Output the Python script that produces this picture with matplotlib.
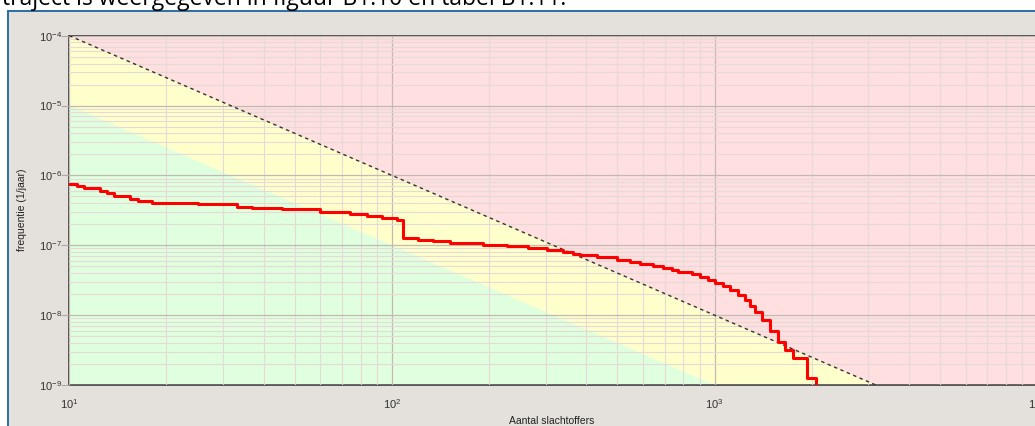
import numpy as np
import matplotlib.pyplot as plt
from matplotlib.patches import Rectangle

# F-N curve
aantal = [10, 10.56, 11.10, 12.45, 13.09, 13.76, 15.42, 16.33, 18.05, 25.06,
          33.1, 36.85, 45.6, 59.8, 74.2, 83.7, 93.2, 103.7, 108.2, 120.5,
          134.2, 151.4, 191.6, 227.5, 264.2, 302.5, 339.2, 364.2, 383.0, 432.4,
          498.5, 547.2, 587.7, 644.8, 692.5, 738.3, 770.7, 851.8, 901.7, 954.8,
          1004, 1063, 1117, 1183, 1243, 1289, 1336, 1404, 1486, 1573,
          1654, 1751, 1935, 2064]
frequentie = [7.56e-7, 7.08e-7, 6.63e-7, 6.00e-7, 5.62e-7, 5.09e-7, 4.61e-7, 4.32e-7, 4.04e-7, 3.87e-7,
              3.54e-7, 3.43e-7, 3.26e-7, 3.00e-7, 2.77e-7, 2.59e-7, 2.43e-7, 2.27e-7, 1.26e-7, 1.20e-7,
              1.14e-7, 1.08e-7, 1.01e-7, 9.64e-8, 9.18e-8, 8.59e-8, 8.04e-8, 7.53e-8, 7.17e-8, 6.71e-8,
              6.18e-8, 5.79e-8, 5.42e-8, 5.07e-8, 4.75e-8, 4.45e-8, 4.16e-8, 3.83e-8, 3.53e-8, 3.20e-8,
              2.90e-8, 2.63e-8, 2.30e-8, 1.95e-8, 1.66e-8, 1.36e-8, 1.11e-8, 8.56e-9, 5.96e-9, 4.15e-9,
              3.19e-9, 2.45e-9, 1.27e-9, 1e-11]

# norm lines (end points on log-log)
norm_n = [10, 10000]
norm_f = [1e-4, 1e-10]
groen_n = [10, 10000]
groen_f = [1e-5, 1e-11]

W, H = 1035, 426
fig = plt.figure(figsize=(W / 100, H / 100), dpi=100, facecolor='white')
plt.rcParams['font.family'] = ['Liberation Sans', 'DejaVu Sans']

# grey window with blue border
fig.patches.append(Rectangle((7.5 / W, -0.1), 1.2, 1 - 10.5 / H + 0.1, transform=fig.transFigure,
                             facecolor='#e4e1dc', edgecolor='#2a6ea6', linewidth=1.4, zorder=-10))
fig.text(2 / W, 1 - 5 / H, 'traject is weergegeven in figuur B1.10 en tabel B1.11.',
         fontsize=16.5, va='baseline', ha='left', color='black', family='Open Sans')

x0, x1 = 69.3, 1037.1
y0, y1 = 35.7, 385
ax = fig.add_axes([x0 / W, 1 - y1 / H, (x1 - x0) / W, (y1 - y0) / H])
ax.set_xscale('log')
ax.set_yscale('log')
ax.set_xlim(10, 10000)
ax.set_ylim(1e-9, 1e-4)
ax.set_facecolor('#ffdfdf')

ax.fill_between(norm_n, norm_f, 1e-12, color='#ffffcc', lw=0, zorder=1)
ax.fill_between(groen_n, groen_f, 1e-12, color='#dfffdf', lw=0, zorder=1.1)

ax.grid(which='minor', color='#e6dad6', lw=0.8, zorder=2)
ax.grid(which='major', color='#c2bab2', lw=0.9, zorder=2)
ax.set_axisbelow(False)

ax.plot(norm_n, norm_f, color='#333333', lw=1.0, ls=(0, (2.5, 2.5)), zorder=3)
ax.step(aantal, frequentie, where='post', color='#ff0000', lw=2.2, zorder=4)

for s in ['left', 'top', 'bottom']:
    ax.spines[s].set_color('#404040')
    ax.spines[s].set_linewidth(1.2)
ax.spines['right'].set_visible(False)

ax.tick_params(axis='y', which='major', length=5.5, color='#b0a8a0', pad=0, labelsize=8, labelcolor='#333333')
ax.tick_params(axis='x', which='major', length=0, pad=9, labelsize=8, labelcolor='#333333')
ax.tick_params(which='minor', length=0)

fig.text(22.5 / W, 1 - 210 / H, 'frequentie (1/jaar)', rotation=90, fontsize=7.5,
         ha='center', va='center', color='#222222')
fig.text(552 / W, 1 - 421 / H, 'Aantal slachtoffers', fontsize=7.5,
         ha='center', va='center', color='#222222')

fig.savefig('out.png', dpi=100)
